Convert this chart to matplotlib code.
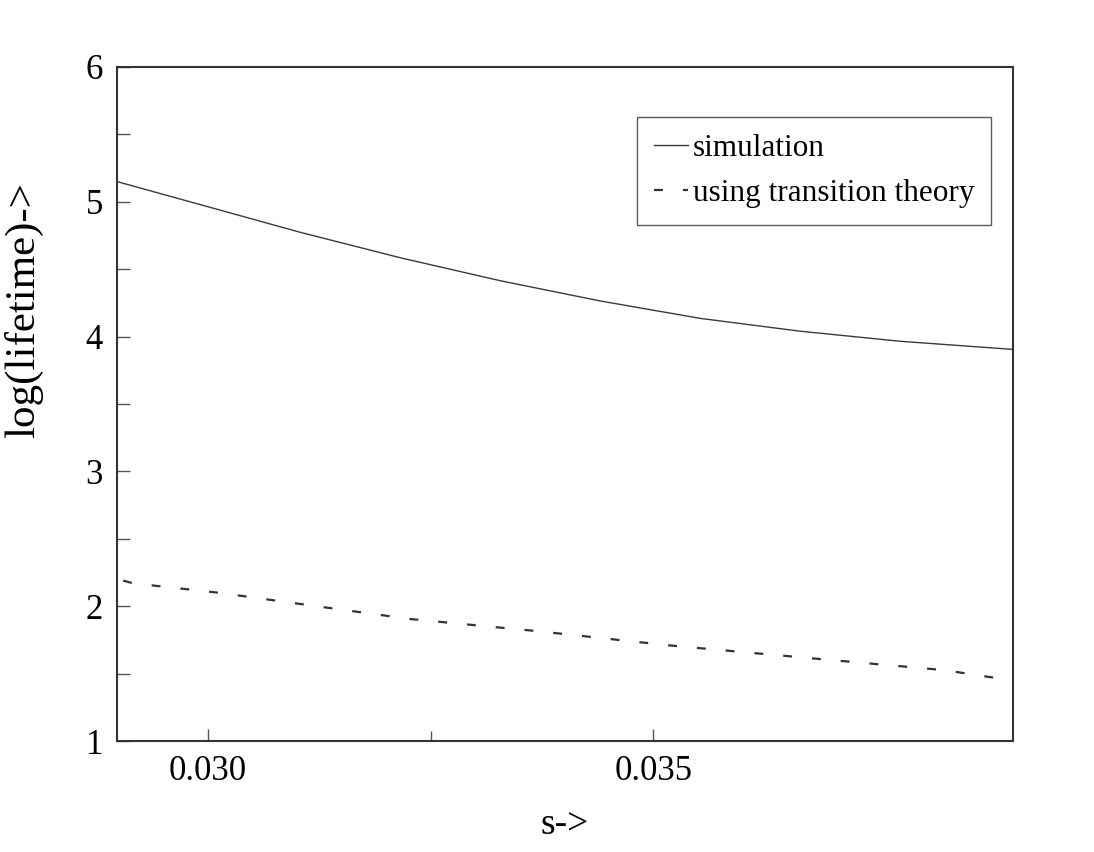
import matplotlib
matplotlib.use("Agg")
import matplotlib.pyplot as plt
from matplotlib.ticker import FixedLocator, FixedFormatter

# Data
s_sim = [0.02898, 0.02991, 0.03103, 0.03216, 0.03328, 0.03440, 0.03553, 0.03665, 0.03778, 0.03904]
life_sim = [5.15, 4.98, 4.775, 4.585, 4.415, 4.265, 4.135, 4.04, 3.965, 3.905]

s_tst = [0.02905, 0.02916, 0.03012, 0.03133, 0.03227, 0.03370, 0.03517, 0.03667, 0.03828, 0.03887]
life_tst = [2.19, 2.17, 2.10, 1.99, 1.905, 1.815, 1.71, 1.62, 1.525, 1.465]

x_major = [0.030, 0.035]
x_labels = ["0.030", "0.035"]
x_minor = [0.0325]
y_major = [1, 2, 3, 4, 5, 6]
y_minor = [1.5, 2.5, 3.5, 4.5, 5.5]

plt.rcParams['font.family'] = ['Liberation Serif', 'DejaVu Serif']

fig = plt.figure(figsize=(10.94, 8.52), dpi=100)
ax = fig.add_axes([117/1094, 1 - 741/852, (1013-117)/1094, (741-67)/852])

ax.plot(s_sim, life_sim, color='#3a3a3a', lw=1.0, label='simulation')
ax.plot(s_tst, life_tst, color='#333333', lw=1.6, dashes=(4, 9), label='using transition theory')

ax.set_xlim(0.02898, 0.03904)
ax.set_ylim(1, 6)

ax.xaxis.set_major_locator(FixedLocator(x_major))
ax.xaxis.set_major_formatter(FixedFormatter(x_labels))
ax.xaxis.set_minor_locator(FixedLocator(x_minor))
ax.yaxis.set_major_locator(FixedLocator(y_major))
ax.yaxis.set_minor_locator(FixedLocator(y_minor))

ax.tick_params(axis='both', which='both', direction='in', color='#555555', width=1.0)
ax.tick_params(axis='x', which='major', length=9, pad=10, labelsize=25)
ax.tick_params(axis='x', which='minor', length=7)
ax.tick_params(axis='y', which='major', length=9, pad=10, labelsize=25)
ax.tick_params(axis='y', which='minor', length=9)
ax.tick_params(top=False, right=False)

for sp in ax.spines.values():
    sp.set_linewidth(1.5)
    sp.set_color('#333333')

ax.set_xlabel('s->', fontsize=27, labelpad=14)
ax.set_ylabel('log(lifetime)->', fontsize=31, labelpad=12)
ax.yaxis.set_label_coords(-0.082, 0.64)

leg = ax.legend(loc='upper right', bbox_to_anchor=(0.976, 0.926), fontsize=22.5,
                frameon=True, fancybox=False, edgecolor='#333333',
                handlelength=1.1, handletextpad=0.15, borderpad=0.55,
                labelspacing=0.5, borderaxespad=0.0)
leg.get_frame().set_linewidth(1.0)

fig.savefig('out.png', dpi=100, facecolor='white')
